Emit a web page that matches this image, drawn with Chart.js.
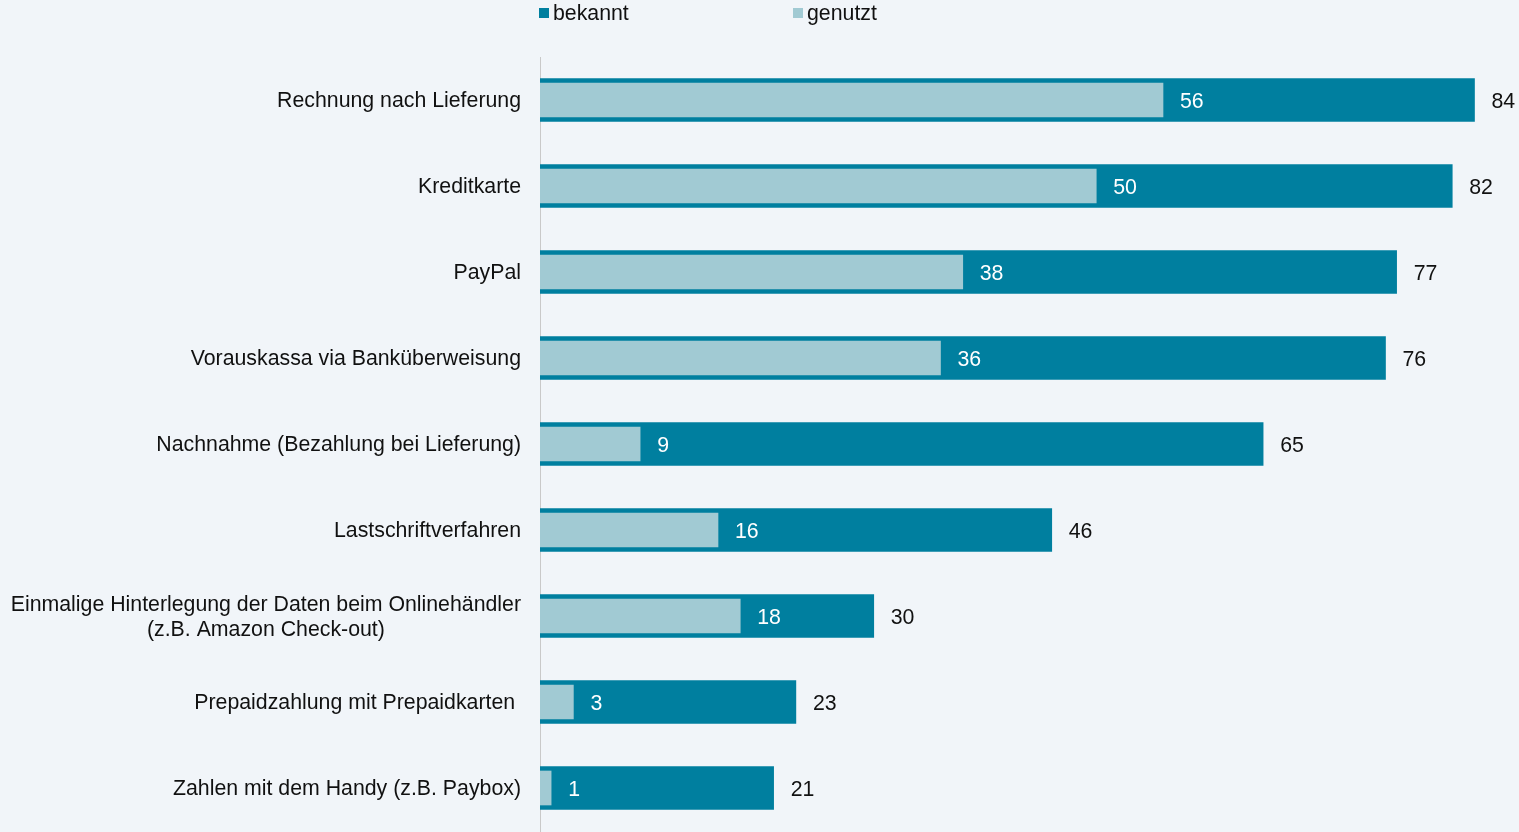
<!DOCTYPE html>
<html>
<head>
<meta charset="utf-8">
<script src="https://cdn.jsdelivr.net/npm/chart.js@4/dist/chart.umd.min.js"></script>
<style>
  html, body { margin: 0; padding: 0; background: #f1f5f9; }
  #wrap { width: 1519px; height: 832px; position: relative; }
</style>
</head>
<body>
<div id="wrap"><canvas id="myChart"></canvas></div>
<script>
var categories = [
    "Rechnung nach Lieferung",
    "Kreditkarte",
    "PayPal",
    "Vorauskassa via Banküberweisung",
    "Nachnahme (Bezahlung bei Lieferung)",
    "Lastschriftverfahren",
    ["Einmalige Hinterlegung der Daten beim Onlinehändler", "(z.B. Amazon Check-out)"],
    "Prepaidzahlung mit Prepaidkarten ",
    "Zahlen mit dem Handy (z.B. Paybox)"
];
var bekannt = [84, 82, 77, 76, 65, 46, 30, 23, 21];
var genutzt = [56, 50, 38, 36, 9, 16, 18, 3, 1];

var darkTeal = '#007f9f';
var lightTeal = '#a1cad3';
var textFont = '21.3px "Liberation Sans", Arial, sans-serif';

// category labels on the left, multi-line ones centred on their widest line
var categoryLabels = {
    id: 'categoryLabels',
    afterDraw: function (chart) {
        var ctx = chart.ctx;
        var yScale = chart.scales.y;
        var right = chart.chartArea.left - 19;
        ctx.save();
        ctx.font = textFont;
        ctx.fillStyle = '#111111';
        ctx.textAlign = 'center';
        ctx.textBaseline = 'middle';
        categories.forEach(function (label, i) {
            var lines = Array.isArray(label) ? label : [label];
            var w = Math.max.apply(null, lines.map(function (l) { return ctx.measureText(l).width; }));
            var cx = right - w / 2;
            var y = yScale.getPixelForValue(i) - (lines.length - 1) * 25 / 2 + 1.5;
            lines.forEach(function (l, k) {
                ctx.fillText(l, cx, y + k * 25);
            });
        });
        ctx.restore();
    }
};

// value labels: inside for genutzt (white), outside for bekannt (black)
var valueLabels = {
    id: 'valueLabels',
    afterDatasetsDraw: function (chart) {
        var ctx = chart.ctx;
        ctx.save();
        ctx.font = textFont;
        ctx.textAlign = 'left';
        ctx.textBaseline = 'middle';
        chart.data.datasets.forEach(function (ds, di) {
            var meta = chart.getDatasetMeta(di);
            meta.data.forEach(function (bar, i) {
                ctx.fillStyle = ds.label === 'genutzt' ? '#ffffff' : '#111111';
                ctx.fillText(String(ds.data[i]), bar.x + 17, bar.y + 2);
            });
        });
        ctx.restore();
    }
};

// small square legend at the top
var topLegend = {
    id: 'topLegend',
    afterDraw: function (chart) {
        var ctx = chart.ctx;
        var x0 = chart.chartArea.left - 1;
        var items = [
            { x: x0, color: darkTeal, text: 'bekannt' },
            { x: x0 + 254, color: lightTeal, text: 'genutzt' }
        ];
        ctx.save();
        ctx.font = textFont;
        ctx.textAlign = 'left';
        ctx.textBaseline = 'middle';
        items.forEach(function (it) {
            ctx.fillStyle = it.color;
            ctx.fillRect(it.x, 8, 10, 10);
            ctx.fillStyle = '#111111';
            ctx.fillText(it.text, it.x + 14, 14);
        });
        ctx.restore();
    }
};

var ctx = document.getElementById('myChart').getContext('2d');

var myChart = new Chart(ctx, {
    type: 'bar',
    data: {
        labels: categories,
        datasets: [{
            label: 'bekannt',
            data: bekannt,
            backgroundColor: darkTeal,
            barThickness: 43,
            grouped: false,
            order: 2
        }, {
            label: 'genutzt',
            data: genutzt,
            backgroundColor: lightTeal,
            barThickness: 34,
            grouped: false,
            order: 1
        }]
    },
    options: {
        indexAxis: 'y',
        responsive: true,
        maintainAspectRatio: false,
        animation: false,
        layout: { padding: { top: 57, bottom: 1, left: 0, right: 0 } },
        plugins: {
            legend: { display: false },
            tooltip: { enabled: false }
        },
        scales: {
            x: {
                display: false,
                min: 0,
                max: 88
            },
            y: {
                grid: { display: false, drawTicks: false },
                border: { display: true, color: '#c9c9c9', width: 1 },
                ticks: { display: false },
                afterFit: function (scale) { scale.width = 540; }
            }
        }
    },
    plugins: [categoryLabels, valueLabels, topLegend]
});
</script>
</body>
</html>
